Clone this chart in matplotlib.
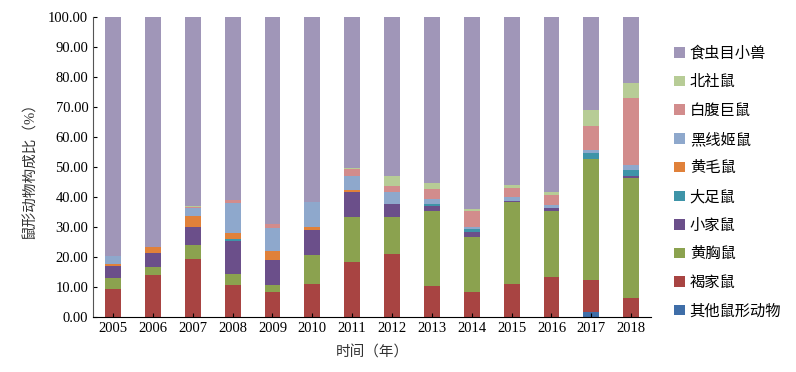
import numpy as np
import matplotlib.pyplot as plt

plt.rcParams['font.family'] = ['Liberation Serif', 'Noto Sans CJK SC']

years = ['2005', '2006', '2007', '2008', '2009', '2010', '2011',
         '2012', '2013', '2014', '2015', '2016', '2017', '2018']

# 各类鼠形动物构成比(%)，自下而上
qita    = [0, 0, 0, 0, 0, 0, 0, 0, 0, 0, 0, 0, 1.6, 0]
hejia   = [9.2, 13.9, 19.4, 10.7, 8.2, 10.9, 18.2, 20.9, 10.2, 8.2, 11.1, 13.4, 10.7, 6.4]
huangxiong = [3.7, 2.7, 4.6, 3.5, 2.4, 9.8, 15.0, 12.4, 25.0, 18.6, 27.1, 21.9, 40.5, 40.0]
xiaojia = [4.1, 4.6, 6.0, 11.0, 8.5, 8.4, 8.6, 4.4, 1.9, 1.4, 0.4, 0.9, 0, 0.7]
dazu    = [0, 0, 0, 0.7, 0, 0, 0, 0, 0.7, 1.2, 0, 0, 1.9, 1.9]
huangmao = [0.7, 2.1, 3.7, 2.0, 2.8, 0.8, 0.5, 0, 0, 0, 0, 0, 0, 0]
heixian = [2.6, 0, 2.7, 10.2, 7.9, 8.5, 4.8, 4.1, 1.6, 0.5, 1.3, 1.2, 1.0, 1.8]
baifu   = [0, 0, 0.3, 0.9, 1.2, 0, 2.1, 1.9, 3.3, 5.4, 3.0, 3.4, 8.1, 22.2]
beishe  = [0, 0, 0.3, 0, 0, 0, 0.5, 3.3, 2.1, 0.7, 1.0, 0.9, 5.1, 4.9]
shichong = [100 - sum(v) for v in zip(qita, hejia, huangxiong, xiaojia, dazu,
                                      huangmao, heixian, baifu, beishe)]

names = ['其他鼠形动物', '褐家鼠', '黄胸鼠', '小家鼠', '大足鼠',
         '黄毛鼠', '黑线姬鼠', '白腹巨鼠', '北社鼠', '食虫目小兽']
series = [qita, hejia, huangxiong, xiaojia, dazu,
          huangmao, heixian, baifu, beishe, shichong]
colors = ['#3F6EA8', '#A84442', '#8BA24F', '#6B4F8A', '#3E94A8',
          '#E0813A', '#8EA8CC', '#D28C8C', '#B7CC96', '#A096B8']

fig = plt.figure(figsize=(7.96, 3.72), dpi=100)
ax = fig.add_axes([0.117, 0.148, 0.701, 0.806])

x = np.arange(len(years))
bottom = np.zeros(len(years))
for name, vals, c in zip(names, series, colors):
    ax.bar(x, vals, width=0.4, bottom=bottom, color=c, label=name)
    bottom += np.array(vals)

ax.set_xlim(-0.5, len(years) - 0.5)
ax.set_ylim(0, 100)
ax.set_yticks(np.arange(0, 101, 10))
ax.set_yticklabels(['%.2f' % v for v in np.arange(0, 101, 10)], fontsize=10.5)
ax.set_xticks(x)
ax.set_xticklabels(years, fontsize=10.5)
ax.tick_params(direction='in', length=3, width=0.8)
for s in ['top', 'right']:
    ax.spines[s].set_visible(False)
ax.spines['left'].set_color('#555555')
ax.set_ylabel('鼠形动物构成比（%）', fontsize=10.5, color='#333333', labelpad=8)
ax.set_xlabel('时间（年）', fontsize=10.5, color='#333333', labelpad=8)

handles, labels = ax.get_legend_handles_labels()
fig.legend(handles[::-1], labels[::-1], loc='center left',
           bbox_to_anchor=(0.83, 0.51), frameon=False, fontsize=11,
           handlelength=0.7, handleheight=0.7, handletextpad=0.3,
           labelspacing=0.95)

fig.savefig('out.png', dpi=100)
